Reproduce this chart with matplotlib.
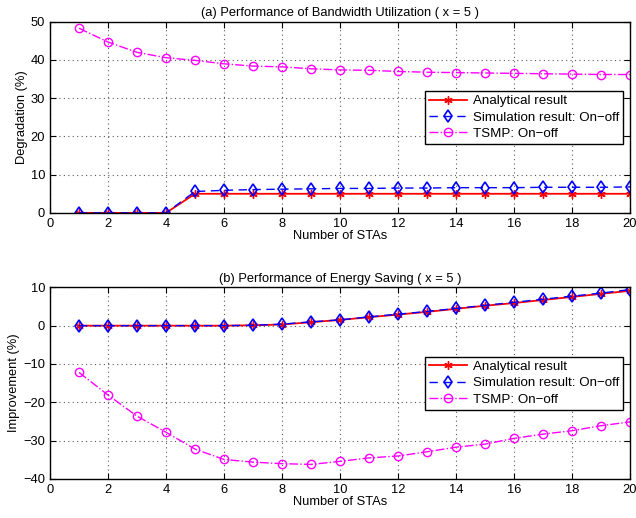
import numpy as np
import matplotlib.pyplot as plt

plt.rcParams['font.family'] = ['Liberation Sans', 'DejaVu Sans']
plt.rcParams['font.size'] = 9.3

#%% data
stas = np.arange(1, 21)

bw_analytical = [0, 0, 0, 0, 5.0, 5.0, 5.0, 5.0, 5.0, 5.0,
                 5.0, 5.0, 5.0, 5.0, 5.0, 5.0, 5.0, 5.0, 5.0, 5.0]
bw_sim = [0, 0, 0, 0, 5.6, 5.9, 6.1, 6.2, 6.3, 6.4,
          6.4, 6.5, 6.5, 6.6, 6.6, 6.6, 6.7, 6.7, 6.7, 6.8]
bw_tsmp = [48.3, 44.7, 42.0, 40.6, 39.9, 39.0, 38.4, 38.2, 37.7, 37.4,
           37.3, 37.0, 36.8, 36.7, 36.6, 36.5, 36.4, 36.3, 36.2, 36.2]

en_analytical = [0, 0, 0, 0, 0, 0, 0.1, 0.3, 0.9, 1.5,
                 2.2, 2.9, 3.6, 4.4, 5.2, 5.9, 6.7, 7.5, 8.3, 9.1]
en_sim = [0, 0, 0, 0, 0, 0, 0.1, 0.4, 1.0, 1.5,
          2.3, 3.0, 3.7, 4.5, 5.3, 6.1, 6.9, 7.7, 8.5, 9.4]
en_tsmp = [-12.2, -18.1, -23.6, -27.8, -32.2, -34.9, -35.6, -36.0, -36.2, -35.4,
           -34.5, -34.0, -32.9, -31.7, -30.9, -29.4, -28.3, -27.4, -26.1, -25.1]

labels = ['Analytical result', 'Simulation result: On\u2212off', 'TSMP: On\u2212off']

#%% plot
fig = plt.figure(figsize=(6.36, 5.18), dpi=100)
ax1 = fig.add_axes([0.0786, 0.589, 0.912, 0.369])
ax2 = fig.add_axes([0.0786, 0.0753, 0.912, 0.370])

def draw(ax, a, s, t, title, ylabel, ylim):
    ax.plot(stas, a, '-', color='red', marker=(6, 2, 0), ms=6, mew=1.0,
            lw=1.3, label=labels[0])
    ax.plot(stas, s, '--', color='blue', marker='d', ms=6.5, mfc='none',
            mew=1.2, lw=1.0, dashes=(6, 4), label=labels[1])
    ax.plot(stas, t, '-.', color='magenta', marker='o', ms=6, mfc='none',
            mew=1.0, lw=1.0, label=labels[2])
    ax.set_xlim(0, 20)
    ax.set_ylim(*ylim)
    ax.set_xticks(np.arange(0, 21, 2))
    ax.set_yticks(np.arange(ylim[0], ylim[1] + 1, 10))
    ax.grid(True, linestyle=(0, (1, 3)), color='0.35', lw=0.8)
    ax.tick_params(direction='in', top=True, right=True, length=4)
    ax.set_title(title, fontsize=9.3, pad=4)
    ax.set_xlabel('Number of STAs', labelpad=0)
    ax.set_ylabel(ylabel, labelpad=2)
    for sp in ax.spines.values():
        sp.set_linewidth(1.0)
    leg = ax.legend(loc='upper right', bbox_to_anchor=(0.988, 0.638),
                    fancybox=False, framealpha=1, edgecolor='black',
                    handlelength=2.9, handletextpad=0.4, borderpad=0.3,
                    labelspacing=0.3, borderaxespad=0, fontsize=9.6)
    leg.get_frame().set_linewidth(1.0)

draw(ax1, bw_analytical, bw_sim, bw_tsmp,
     '(a) Performance of Bandwidth Utilization ( x = 5 )', 'Degradation (%)', (0, 50))
draw(ax2, en_analytical, en_sim, en_tsmp,
     '(b) Performance of Energy Saving ( x = 5 )', 'Improvement (%)', (-40, 10))

ax2.set_yticklabels(['\u221240', '\u221230', '\u221220', '\u221210', '0', '10'])

fig.savefig('out.png', dpi=100)
